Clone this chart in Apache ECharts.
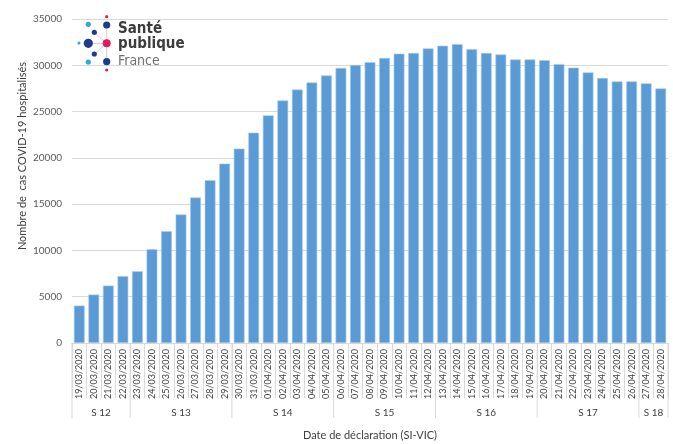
<!DOCTYPE html>
<html><head><meta charset="utf-8">
<script src="https://cdn.jsdelivr.net/npm/echarts@6/dist/echarts.min.js"></script>
<style>html,body{margin:0;padding:0;background:#fff}#c{width:673px;height:444px}</style>
</head><body><div id="c"></div>
<script>
var dates = ['19/03/2020','20/03/2020','21/03/2020','22/03/2020','23/03/2020','24/03/2020','25/03/2020','26/03/2020','27/03/2020','28/03/2020','29/03/2020','30/03/2020','31/03/2020','01/04/2020','02/04/2020','03/04/2020','04/04/2020','05/04/2020','06/04/2020','07/04/2020','08/04/2020','09/04/2020','10/04/2020','11/04/2020','12/04/2020','13/04/2020','14/04/2020','15/04/2020','16/04/2020','17/04/2020','18/04/2020','19/04/2020','20/04/2020','21/04/2020','22/04/2020','23/04/2020','24/04/2020','25/04/2020','26/04/2020','27/04/2020','28/04/2020'];
var hospitalises = [4040,5230,6200,7220,7750,10130,12070,13880,15720,17580,19380,21000,22720,24590,26200,27380,28150,28900,29710,30030,30330,30780,31250,31320,31830,32110,32290,31750,31320,31170,30630,30630,30560,30130,29740,29230,28620,28260,28260,28050,27500];
var weekLabels = ['S 12','S 13','S 14','S 15','S 16','S 17','S 18'];
var weekSizes = [4,7,7,7,7,7,2];
var yTicks = [0,5000,10000,15000,20000,25000,30000,35000];

var FONT = 'Lato, "Open Sans", sans-serif';
var chart = echarts.init(document.getElementById('c'));
chart.setOption({
  animation: false,
  grid: {left: 72, right: 5, top: 19, bottom: 101, outerBoundsMode: 'none', containLabel: false},
  xAxis: {
    type: 'category', data: dates,
    axisLine: {lineStyle: {color: '#d9d9d9'}},
    axisTick: {show: true, interval: 0, length: 55, lineStyle: {color: '#d9d9d9'}},
    axisLabel: {interval: 0, rotate: 90, margin: 6, fontSize: 9, color: '#404040', fontFamily: FONT},
    name: 'Date de déclaration (SI-VIC)', nameLocation: 'middle', nameGap: 87,
    nameTextStyle: {fontSize: 11, color: '#404040', fontFamily: FONT}
  },
  yAxis: {
    type: 'value', min: yTicks[0], max: yTicks[yTicks.length-1], interval: 5000,
    axisLine: {show: false}, axisTick: {show: false},
    axisLabel: {fontSize: 10, color: '#595959', margin: 10, fontFamily: FONT, formatter: function(v){ return String(v); }},
    splitLine: {lineStyle: {color: '#d9d9d9'}}
  },
  series: [{
    type: 'bar', data: hospitalises, barCategoryGap: '26%',
    itemStyle: {color: '#5b9bd5', borderColor: '#a9c9ea', borderWidth: 0.6}
  }]
});

// week groups (second level of category axis)
var p0 = chart.convertToPixel({xAxisIndex: 0}, 0);
var p1 = chart.convertToPixel({xAxisIndex: 0}, 1);
var band = p1 - p0;
var yAx = chart.convertToPixel({yAxisIndex: 0}, 0);
var g = [];
var start = 0;
function bx(i){ return p0 + (i - 0.5) * band; }
g.push({type: 'line', shape: {x1: bx(0), y1: yAx, x2: bx(0), y2: yAx + 75}, style: {stroke: '#d9d9d9', lineWidth: 1}, silent: true});
for (var k = 0; k < weekSizes.length; k++) {
  var end = start + weekSizes[k];
  var xe = bx(end);
  g.push({type: 'line', shape: {x1: xe, y1: yAx, x2: xe, y2: yAx + 75}, style: {stroke: '#d9d9d9', lineWidth: 1}, silent: true});
  g.push({type: 'text', x: (bx(start) + xe) / 2, y: yAx + 70, style: {text: weekLabels[k], fontSize: 10, fill: '#404040', fontFamily: FONT, textAlign: 'center', textVerticalAlign: 'middle'}});
  start = end;
}
// y axis title
g.push({type: 'text', x: 22, y: 156, rotation: Math.PI / 2, style: {text: 'Nombre de  cas COVID-19 hospitalisés', fontSize: 11, fill: '#404040', fontFamily: FONT, textAlign: 'center', textVerticalAlign: 'middle'}});
// logo
var lg = '#cfcfcf', navy = '#1d3c8f', lb = '#2aa9e0', pk = '#e5195e';
var logo = [
  {type:'line', shape:{x1:106.7,y1:25,x2:106.7,y2:62}, style:{stroke:lg,lineWidth:1}},
  {type:'line', shape:{x1:88.3,y1:43.3,x2:106.7,y2:43.3}, style:{stroke:lg,lineWidth:1}},
  {type:'line', shape:{x1:94.3,y1:32.3,x2:106.7,y2:43.3}, style:{stroke:lg,lineWidth:1}},
  {type:'line', shape:{x1:94.3,y1:54,x2:106.7,y2:43.3}, style:{stroke:lg,lineWidth:1}},
  {type:'circle', shape:{cx:106.7,cy:16.7,r:1.6}, style:{fill:pk}},
  {type:'circle', shape:{cx:88.3,cy:24.3,r:2.6}, style:{fill:lb}},
  {type:'circle', shape:{cx:106.7,cy:25,r:3.6}, style:{fill:navy}},
  {type:'circle', shape:{cx:94.3,cy:32.3,r:2.6}, style:{fill:navy}},
  {type:'circle', shape:{cx:79,cy:43,r:1.6}, style:{fill:lb}},
  {type:'circle', shape:{cx:88.3,cy:43.3,r:4.6}, style:{fill:navy}},
  {type:'circle', shape:{cx:106.7,cy:43.3,r:4}, style:{fill:pk}},
  {type:'circle', shape:{cx:94.3,cy:54,r:2.6}, style:{fill:navy}},
  {type:'circle', shape:{cx:88.3,cy:62,r:2.6}, style:{fill:lb}},
  {type:'circle', shape:{cx:106.7,cy:61.7,r:3.6}, style:{fill:navy}},
  {type:'circle', shape:{cx:106.7,cy:70,r:1.6}, style:{fill:pk}},
  {type:'text', x:118, y:29, style:{text:'Santé', fontSize:15, fontWeight:'bold', fill:'#3c3c3c', fontFamily:'"DejaVu Sans Condensed", "DejaVu Sans", sans-serif', textVerticalAlign:'middle'}},
  {type:'text', x:118, y:44, style:{text:'publique', fontSize:15, fontWeight:'bold', fill:'#3c3c3c', fontFamily:'"DejaVu Sans Condensed", "DejaVu Sans", sans-serif', textVerticalAlign:'middle'}},
  {type:'text', x:118, y:61, style:{text:'France', fontSize:14, fill:'#707070', fontFamily:'"DejaVu Sans Condensed", "DejaVu Sans", sans-serif', textVerticalAlign:'middle'}}
];
chart.setOption({graphic: {elements: g.concat(logo)}});
</script></body></html>
